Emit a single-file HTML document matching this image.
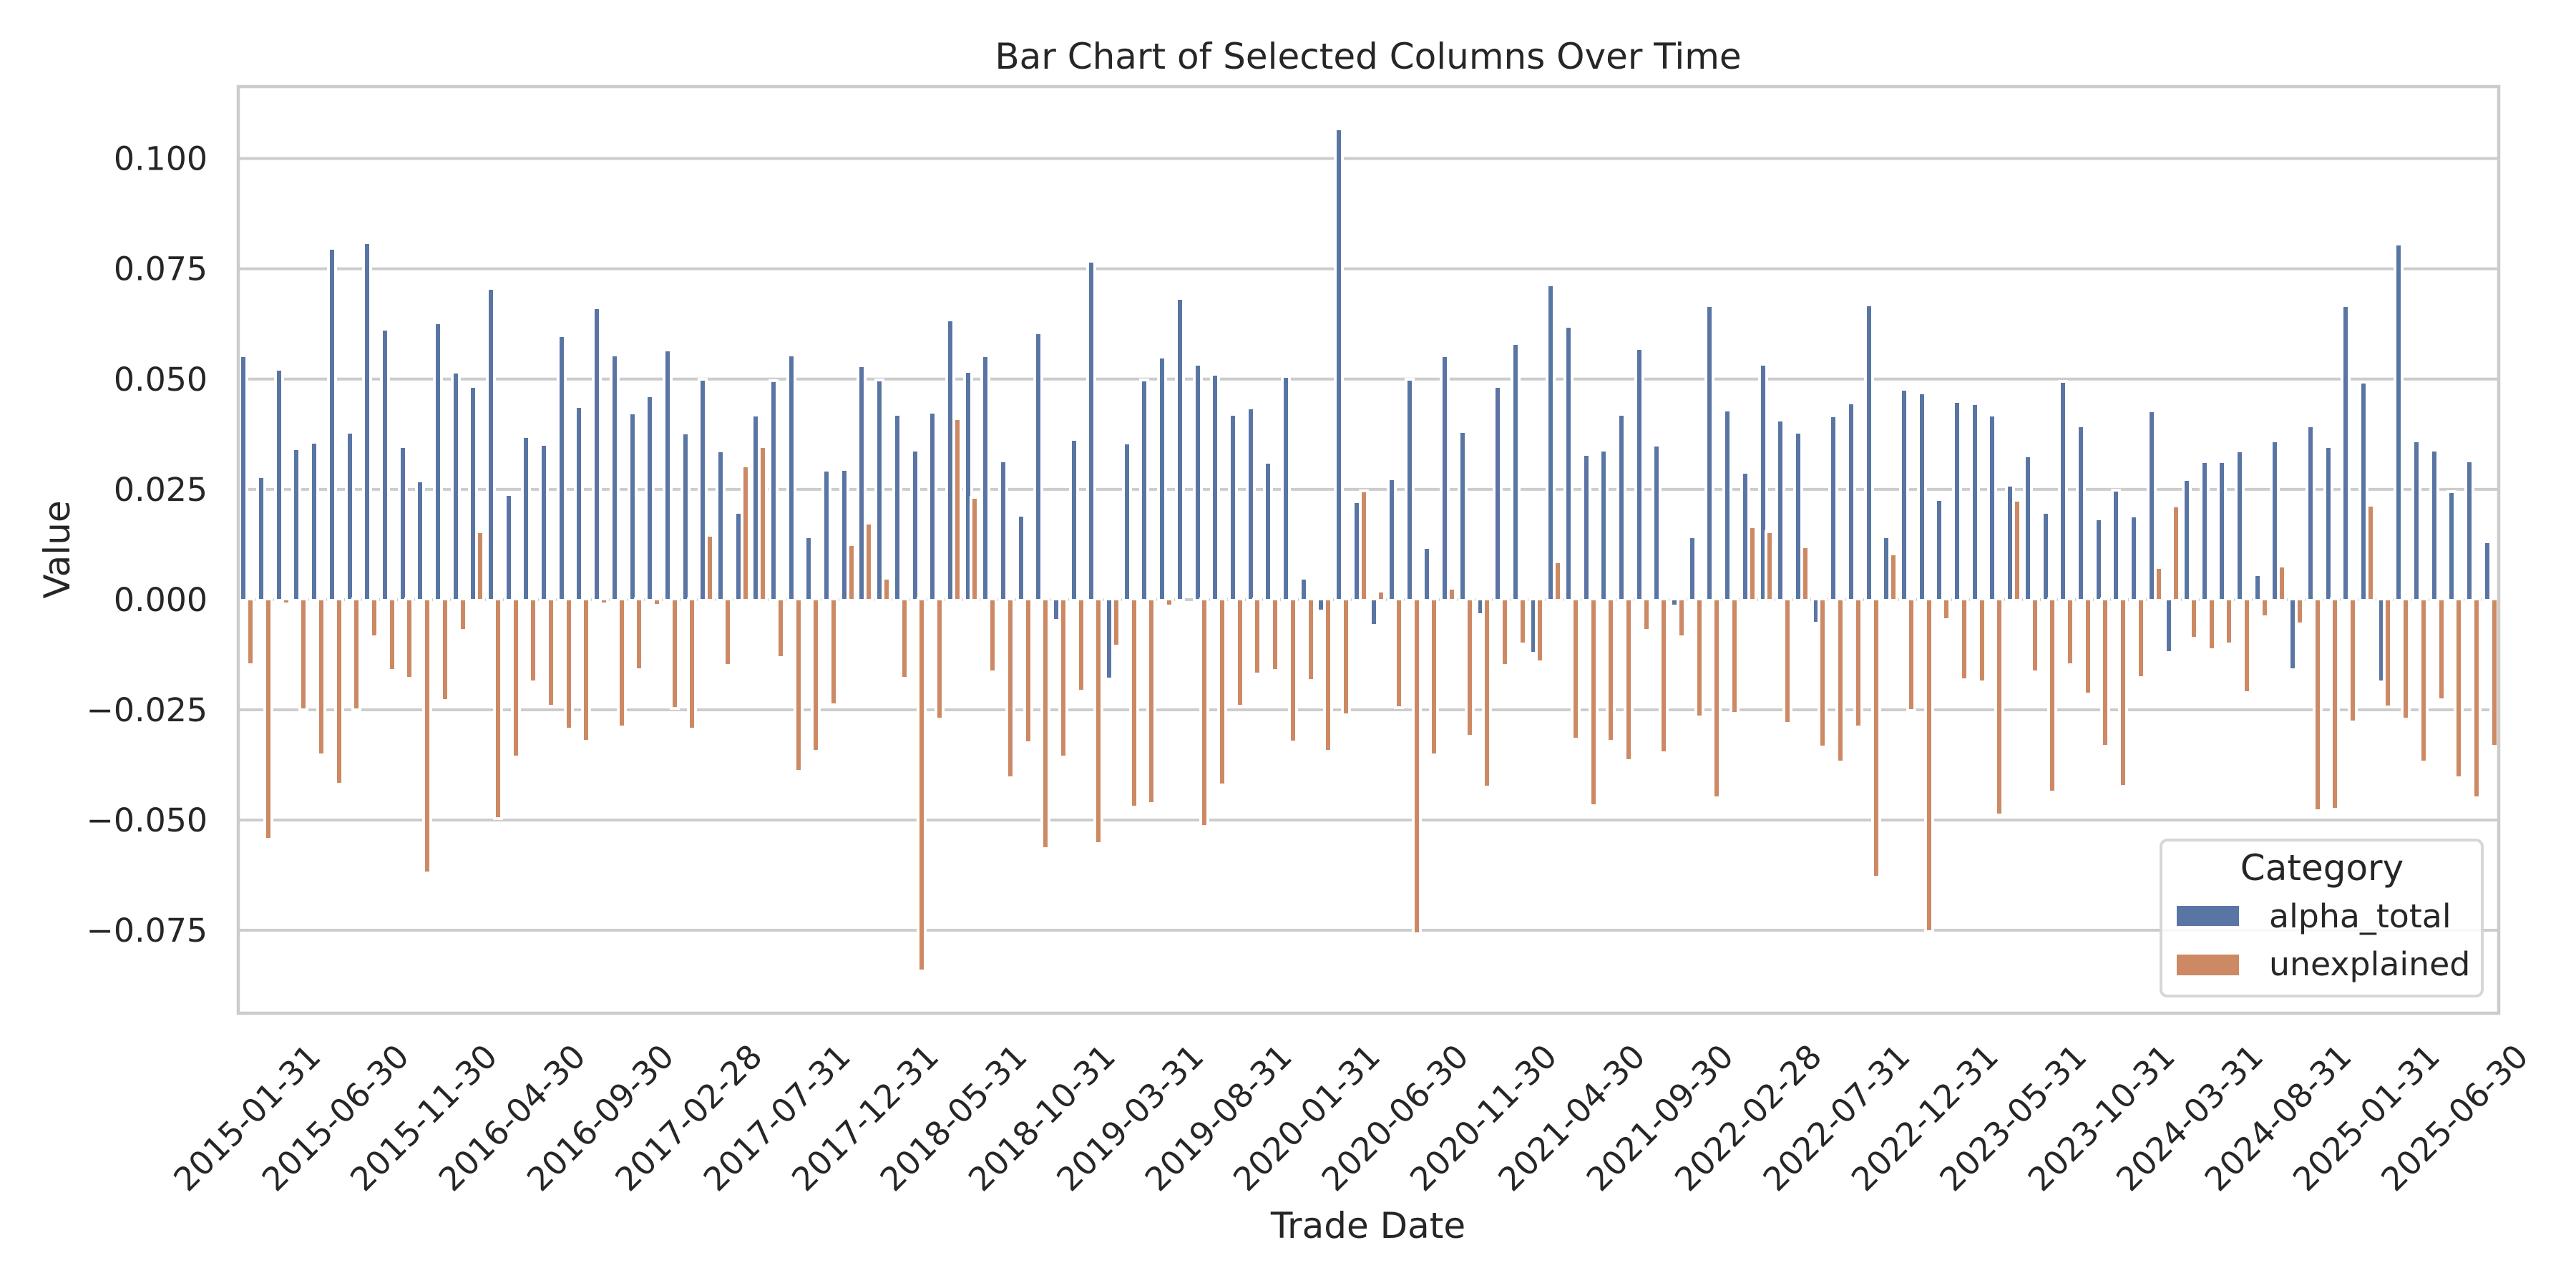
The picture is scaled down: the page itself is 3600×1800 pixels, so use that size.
<!DOCTYPE html>
<html><head><meta charset="utf-8"><style>
html,body{margin:0;padding:0;background:#fff;}
#w{position:relative;width:3600px;height:1800px;overflow:hidden;background:#fff;}
svg{position:absolute;left:0;top:0;}
#bars{position:absolute;left:333px;top:0;width:3159px;height:1800px;display:flex;}
.m{flex:1;position:relative;height:100%;}
.m i{position:absolute;width:6px;border:4px solid #fff;box-sizing:content-box;display:block;}
.b{left:calc(30% - 7px);background:#5975a4;}
.o{left:calc(70% - 7px);background:#cc8963;}
.p{top:calc(115px + var(--t)*0.8291px);height:calc((866 - var(--t))*0.8291px);}
.n{top:834.7px;height:calc((var(--t) - 868)*0.8291px);}
text{font-family:"DejaVu Sans","Liberation Sans",sans-serif;fill:#262626;}
</style></head><body><div id="w">
<svg width="3600" height="1800">
<g stroke="#cccccc" stroke-width="4">
<line x1="333" x2="3492" y1="221.5" y2="221.5"/>
<line x1="333" x2="3492" y1="375.6" y2="375.6"/>
<line x1="333" x2="3492" y1="529.8" y2="529.8"/>
<line x1="333" x2="3492" y1="683.9" y2="683.9"/>
<line x1="333" x2="3492" y1="838" y2="838"/>
<line x1="333" x2="3492" y1="992" y2="992"/>
<line x1="333" x2="3492" y1="1146" y2="1146"/>
<line x1="333" x2="3492" y1="1300" y2="1300"/>
</g>
</svg>
<div id="bars">
<div class="m"><i class="b p" style="--t:458"></i><i class="o n" style="--t:975"></i></div>
<div class="m"><i class="b p" style="--t:662"></i><i class="o n" style="--t:1269"></i></div>
<div class="m"><i class="b p" style="--t:481"></i><i class="o n" style="--t:872"></i></div>
<div class="m"><i class="b p" style="--t:615"></i><i class="o n" style="--t:1051"></i></div>
<div class="m"><i class="b p" style="--t:604"></i><i class="o n" style="--t:1126"></i></div>
<div class="m"><i class="b p" style="--t:277"></i><i class="o n" style="--t:1176"></i></div>
<div class="m"><i class="b p" style="--t:587"></i><i class="o n" style="--t:1051"></i></div>
<div class="m"><i class="b p" style="--t:268"></i><i class="o n" style="--t:928"></i></div>
<div class="m"><i class="b p" style="--t:414"></i><i class="o n" style="--t:984"></i></div>
<div class="m"><i class="b p" style="--t:612"></i><i class="o n" style="--t:998"></i></div>
<div class="m"><i class="b p" style="--t:669"></i><i class="o n" style="--t:1325"></i></div>
<div class="m"><i class="b p" style="--t:403"></i><i class="o n" style="--t:1035"></i></div>
<div class="m"><i class="b p" style="--t:486"></i><i class="o n" style="--t:917"></i></div>
<div class="m"><i class="b p" style="--t:510"></i><i class="o p" style="--t:755"></i></div>
<div class="m"><i class="b p" style="--t:345"></i><i class="o n" style="--t:1234"></i></div>
<div class="m"><i class="b p" style="--t:692"></i><i class="o n" style="--t:1130"></i></div>
<div class="m"><i class="b p" style="--t:595"></i><i class="o n" style="--t:1003"></i></div>
<div class="m"><i class="b p" style="--t:608"></i><i class="o n" style="--t:1044"></i></div>
<div class="m"><i class="b p" style="--t:425"></i><i class="o n" style="--t:1083"></i></div>
<div class="m"><i class="b p" style="--t:544"></i><i class="o n" style="--t:1103"></i></div>
<div class="m"><i class="b p" style="--t:378"></i><i class="o n" style="--t:872"></i></div>
<div class="m"><i class="b p" style="--t:457"></i><i class="o n" style="--t:1079"></i></div>
<div class="m"><i class="b p" style="--t:555"></i><i class="o n" style="--t:983"></i></div>
<div class="m"><i class="b p" style="--t:526"></i><i class="o n" style="--t:875"></i></div>
<div class="m"><i class="b p" style="--t:449"></i><i class="o n" style="--t:1048"></i></div>
<div class="m"><i class="b p" style="--t:589"></i><i class="o n" style="--t:1083"></i></div>
<div class="m"><i class="b p" style="--t:498"></i><i class="o p" style="--t:761"></i></div>
<div class="m"><i class="b p" style="--t:619"></i><i class="o n" style="--t:976"></i></div>
<div class="m"><i class="b p" style="--t:722"></i><i class="o p" style="--t:644"></i></div>
<div class="m"><i class="b p" style="--t:558"></i><i class="o p" style="--t:612"></i></div>
<div class="m"><i class="b p" style="--t:501"></i><i class="o n" style="--t:962"></i></div>
<div class="m"><i class="b p" style="--t:457"></i><i class="o n" style="--t:1154"></i></div>
<div class="m"><i class="b p" style="--t:763"></i><i class="o n" style="--t:1121"></i></div>
<div class="m"><i class="b p" style="--t:651"></i><i class="o n" style="--t:1042"></i></div>
<div class="m"><i class="b p" style="--t:650"></i><i class="o p" style="--t:777"></i></div>
<div class="m"><i class="b p" style="--t:475"></i><i class="o p" style="--t:741"></i></div>
<div class="m"><i class="b p" style="--t:499"></i><i class="o p" style="--t:833"></i></div>
<div class="m"><i class="b p" style="--t:557"></i><i class="o n" style="--t:998"></i></div>
<div class="m"><i class="b p" style="--t:618"></i><i class="o n" style="--t:1491"></i></div>
<div class="m"><i class="b p" style="--t:554"></i><i class="o n" style="--t:1066"></i></div>
<div class="m"><i class="b p" style="--t:398"></i><i class="o p" style="--t:564"></i></div>
<div class="m"><i class="b p" style="--t:485"></i><i class="o p" style="--t:697"></i></div>
<div class="m"><i class="b p" style="--t:458"></i><i class="o n" style="--t:987"></i></div>
<div class="m"><i class="b p" style="--t:636"></i><i class="o n" style="--t:1165"></i></div>
<div class="m"><i class="b p" style="--t:727"></i><i class="o n" style="--t:1106"></i></div>
<div class="m"><i class="b p" style="--t:420"></i><i class="o n" style="--t:1285"></i></div>
<div class="m"><i class="b n" style="--t:900"></i><i class="o n" style="--t:1130"></i></div>
<div class="m"><i class="b p" style="--t:599"></i><i class="o n" style="--t:1019"></i></div>
<div class="m"><i class="b p" style="--t:299"></i><i class="o n" style="--t:1276"></i></div>
<div class="m"><i class="b n" style="--t:999"></i><i class="o n" style="--t:943"></i></div>
<div class="m"><i class="b p" style="--t:605"></i><i class="o n" style="--t:1215"></i></div>
<div class="m"><i class="b p" style="--t:499"></i><i class="o n" style="--t:1209"></i></div>
<div class="m"><i class="b p" style="--t:461"></i><i class="o n" style="--t:876"></i></div>
<div class="m"><i class="b p" style="--t:362"></i></div>
<div class="m"><i class="b p" style="--t:473"></i><i class="o n" style="--t:1247"></i></div>
<div class="m"><i class="b p" style="--t:490"></i><i class="o n" style="--t:1177"></i></div>
<div class="m"><i class="b p" style="--t:557"></i><i class="o n" style="--t:1045"></i></div>
<div class="m"><i class="b p" style="--t:546"></i><i class="o n" style="--t:990"></i></div>
<div class="m"><i class="b p" style="--t:638"></i><i class="o n" style="--t:984"></i></div>
<div class="m"><i class="b p" style="--t:493"></i><i class="o n" style="--t:1105"></i></div>
<div class="m"><i class="b p" style="--t:833"></i><i class="o n" style="--t:1001"></i></div>
<div class="m"><i class="b n" style="--t:884"></i><i class="o n" style="--t:1120"></i></div>
<div class="m"><i class="b p" style="--t:76"></i><i class="o n" style="--t:1059"></i></div>
<div class="m"><i class="b p" style="--t:704"></i><i class="o p" style="--t:686"></i></div>
<div class="m"><i class="b n" style="--t:908"></i><i class="o p" style="--t:855"></i></div>
<div class="m"><i class="b p" style="--t:666"></i><i class="o n" style="--t:1047"></i></div>
<div class="m"><i class="b p" style="--t:498"></i><i class="o n" style="--t:1428"></i></div>
<div class="m"><i class="b p" style="--t:782"></i><i class="o n" style="--t:1127"></i></div>
<div class="m"><i class="b p" style="--t:458"></i><i class="o p" style="--t:850"></i></div>
<div class="m"><i class="b p" style="--t:586"></i><i class="o n" style="--t:1095"></i></div>
<div class="m"><i class="b n" style="--t:890"></i><i class="o n" style="--t:1181"></i></div>
<div class="m"><i class="b p" style="--t:510"></i><i class="o n" style="--t:976"></i></div>
<div class="m"><i class="b p" style="--t:438"></i><i class="o n" style="--t:939"></i></div>
<div class="m"><i class="b n" style="--t:955"></i><i class="o n" style="--t:970"></i></div>
<div class="m"><i class="b p" style="--t:339"></i><i class="o p" style="--t:806"></i></div>
<div class="m"><i class="b p" style="--t:409"></i><i class="o n" style="--t:1100"></i></div>
<div class="m"><i class="b p" style="--t:625"></i><i class="o n" style="--t:1212"></i></div>
<div class="m"><i class="b p" style="--t:618"></i><i class="o n" style="--t:1103"></i></div>
<div class="m"><i class="b p" style="--t:557"></i><i class="o n" style="--t:1136"></i></div>
<div class="m"><i class="b p" style="--t:446"></i><i class="o n" style="--t:917"></i></div>
<div class="m"><i class="b p" style="--t:609"></i><i class="o n" style="--t:1123"></i></div>
<div class="m"><i class="b n" style="--t:876"></i><i class="o n" style="--t:927"></i></div>
<div class="m"><i class="b p" style="--t:763"></i><i class="o n" style="--t:1062"></i></div>
<div class="m"><i class="b p" style="--t:374"></i><i class="o n" style="--t:1199"></i></div>
<div class="m"><i class="b p" style="--t:550"></i><i class="o n" style="--t:1057"></i></div>
<div class="m"><i class="b p" style="--t:655"></i><i class="o p" style="--t:747"></i></div>
<div class="m"><i class="b p" style="--t:473"></i><i class="o p" style="--t:755"></i></div>
<div class="m"><i class="b p" style="--t:567"></i><i class="o n" style="--t:1074"></i></div>
<div class="m"><i class="b p" style="--t:587"></i><i class="o p" style="--t:780"></i></div>
<div class="m"><i class="b n" style="--t:905"></i><i class="o n" style="--t:1113"></i></div>
<div class="m"><i class="b p" style="--t:560"></i><i class="o n" style="--t:1139"></i></div>
<div class="m"><i class="b p" style="--t:538"></i><i class="o n" style="--t:1079"></i></div>
<div class="m"><i class="b p" style="--t:373"></i><i class="o n" style="--t:1333"></i></div>
<div class="m"><i class="b p" style="--t:763"></i><i class="o p" style="--t:792"></i></div>
<div class="m"><i class="b p" style="--t:515"></i><i class="o n" style="--t:1052"></i></div>
<div class="m"><i class="b p" style="--t:521"></i><i class="o n" style="--t:1425"></i></div>
<div class="m"><i class="b p" style="--t:701"></i><i class="o n" style="--t:898"></i></div>
<div class="m"><i class="b p" style="--t:536"></i><i class="o n" style="--t:1000"></i></div>
<div class="m"><i class="b p" style="--t:539"></i><i class="o n" style="--t:1003"></i></div>
<div class="m"><i class="b p" style="--t:558"></i><i class="o n" style="--t:1228"></i></div>
<div class="m"><i class="b p" style="--t:677"></i><i class="o p" style="--t:702"></i></div>
<div class="m"><i class="b p" style="--t:627"></i><i class="o n" style="--t:986"></i></div>
<div class="m"><i class="b p" style="--t:722"></i><i class="o n" style="--t:1189"></i></div>
<div class="m"><i class="b p" style="--t:502"></i><i class="o n" style="--t:974"></i></div>
<div class="m"><i class="b p" style="--t:577"></i><i class="o n" style="--t:1024"></i></div>
<div class="m"><i class="b p" style="--t:733"></i><i class="o n" style="--t:1112"></i></div>
<div class="m"><i class="b p" style="--t:685"></i><i class="o n" style="--t:1179"></i></div>
<div class="m"><i class="b p" style="--t:729"></i><i class="o n" style="--t:996"></i></div>
<div class="m"><i class="b p" style="--t:551"></i><i class="o p" style="--t:815"></i></div>
<div class="m"><i class="b n" style="--t:954"></i><i class="o p" style="--t:712"></i></div>
<div class="m"><i class="b p" style="--t:667"></i><i class="o n" style="--t:930"></i></div>
<div class="m"><i class="b p" style="--t:637"></i><i class="o n" style="--t:949"></i></div>
<div class="m"><i class="b p" style="--t:637"></i><i class="o n" style="--t:939"></i></div>
<div class="m"><i class="b p" style="--t:619"></i><i class="o n" style="--t:1022"></i></div>
<div class="m"><i class="b p" style="--t:827"></i><i class="o n" style="--t:894"></i></div>
<div class="m"><i class="b p" style="--t:602"></i><i class="o p" style="--t:813"></i></div>
<div class="m"><i class="b n" style="--t:983"></i><i class="o n" style="--t:906"></i></div>
<div class="m"><i class="b p" style="--t:577"></i><i class="o n" style="--t:1221"></i></div>
<div class="m"><i class="b p" style="--t:612"></i><i class="o n" style="--t:1218"></i></div>
<div class="m"><i class="b p" style="--t:374"></i><i class="o n" style="--t:1071"></i></div>
<div class="m"><i class="b p" style="--t:503"></i><i class="o p" style="--t:710"></i></div>
<div class="m"><i class="b n" style="--t:1003"></i><i class="o n" style="--t:1046"></i></div>
<div class="m"><i class="b p" style="--t:270"></i><i class="o n" style="--t:1066"></i></div>
<div class="m"><i class="b p" style="--t:602"></i><i class="o n" style="--t:1139"></i></div>
<div class="m"><i class="b p" style="--t:618"></i><i class="o n" style="--t:1034"></i></div>
<div class="m"><i class="b p" style="--t:688"></i><i class="o n" style="--t:1165"></i></div>
<div class="m"><i class="b p" style="--t:636"></i><i class="o n" style="--t:1199"></i></div>
<div class="m"><i class="b p" style="--t:772"></i><i class="o n" style="--t:1112"></i></div>
</div>
<svg width="3600" height="1800">
<rect x="333" y="121" width="3159" height="1295" fill="none" stroke="#cccccc" stroke-width="4.5"/>
<text x="1912" y="96" font-size="50" text-anchor="middle">Bar Chart of Selected Columns Over Time</text>
<g font-size="45.8" text-anchor="end" dominant-baseline="central">
<text x="290" y="221.5">0.100</text>
<text x="290" y="375.6">0.075</text>
<text x="290" y="529.8">0.050</text>
<text x="290" y="683.9">0.025</text>
<text x="290" y="838">0.000</text>
<text x="290" y="992">−0.025</text>
<text x="290" y="1146">−0.050</text>
<text x="290" y="1300">−0.075</text>
</g>
<text x="80" y="768" font-size="50" text-anchor="middle" dominant-baseline="central" transform="rotate(-90 80 768)">Value</text>
<text x="1912" y="1713" font-size="50" text-anchor="middle" dominant-baseline="central">Trade Date</text>
<g font-size="45.8" text-anchor="middle" dominant-baseline="central">
<text x="345.3" y="1562" transform="rotate(-45 345.3 1562)">2015-01-31</text>
<text x="468.7" y="1562" transform="rotate(-45 468.7 1562)">2015-06-30</text>
<text x="592.1" y="1562" transform="rotate(-45 592.1 1562)">2015-11-30</text>
<text x="715.5" y="1562" transform="rotate(-45 715.5 1562)">2016-04-30</text>
<text x="838.9" y="1562" transform="rotate(-45 838.9 1562)">2016-09-30</text>
<text x="962.3" y="1562" transform="rotate(-45 962.3 1562)">2017-02-28</text>
<text x="1085.7" y="1562" transform="rotate(-45 1085.7 1562)">2017-07-31</text>
<text x="1209.1" y="1562" transform="rotate(-45 1209.1 1562)">2017-12-31</text>
<text x="1332.5" y="1562" transform="rotate(-45 1332.5 1562)">2018-05-31</text>
<text x="1455.9" y="1562" transform="rotate(-45 1455.9 1562)">2018-10-31</text>
<text x="1579.3" y="1562" transform="rotate(-45 1579.3 1562)">2019-03-31</text>
<text x="1702.7" y="1562" transform="rotate(-45 1702.7 1562)">2019-08-31</text>
<text x="1826.1" y="1562" transform="rotate(-45 1826.1 1562)">2020-01-31</text>
<text x="1949.5" y="1562" transform="rotate(-45 1949.5 1562)">2020-06-30</text>
<text x="2072.9" y="1562" transform="rotate(-45 2072.9 1562)">2020-11-30</text>
<text x="2196.3" y="1562" transform="rotate(-45 2196.3 1562)">2021-04-30</text>
<text x="2319.7" y="1562" transform="rotate(-45 2319.7 1562)">2021-09-30</text>
<text x="2443.1" y="1562" transform="rotate(-45 2443.1 1562)">2022-02-28</text>
<text x="2566.5" y="1562" transform="rotate(-45 2566.5 1562)">2022-07-31</text>
<text x="2689.9" y="1562" transform="rotate(-45 2689.9 1562)">2022-12-31</text>
<text x="2813.3" y="1562" transform="rotate(-45 2813.3 1562)">2023-05-31</text>
<text x="2936.7" y="1562" transform="rotate(-45 2936.7 1562)">2023-10-31</text>
<text x="3060.1" y="1562" transform="rotate(-45 3060.1 1562)">2024-03-31</text>
<text x="3183.5" y="1562" transform="rotate(-45 3183.5 1562)">2024-08-31</text>
<text x="3306.9" y="1562" transform="rotate(-45 3306.9 1562)">2025-01-31</text>
<text x="3430.3" y="1562" transform="rotate(-45 3430.3 1562)">2025-06-30</text>
</g>
<rect x="3020" y="1174" width="449" height="218" rx="9" fill="#ffffff" fill-opacity="0.85" stroke="#d6d6d6" stroke-width="4"/>
<text x="3245" y="1230" font-size="50" text-anchor="middle">Category</text>
<rect x="3042" y="1266" width="87" height="28" fill="#5975a4"/>
<rect x="3042" y="1334" width="87" height="29" fill="#cc8963"/>
<text x="3171" y="1296" font-size="45.8">alpha_total</text>
<text x="3171" y="1363" font-size="45.8">unexplained</text>
</svg>
</div></body></html>
